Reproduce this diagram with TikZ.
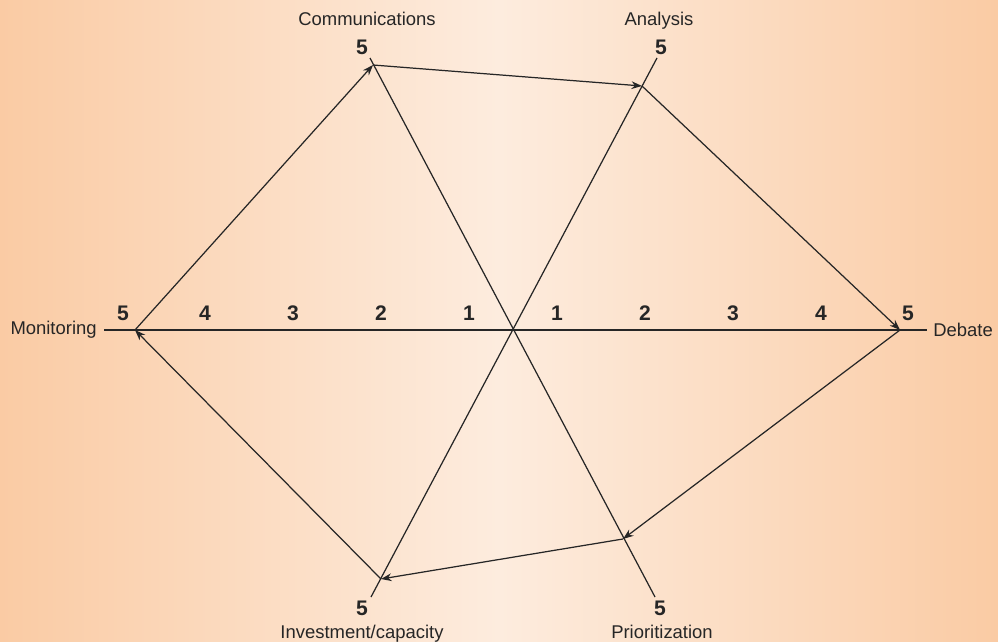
\documentclass[tikz,border=0pt]{standalone}
\usepackage{fontspec}
\setmainfont{Liberation Sans}
\usepackage{tikz}
\usetikzlibrary{arrows.meta}
\definecolor{edgeor}{RGB}{250,203,164}
\definecolor{midor}{RGB}{253,236,222}

\begin{document}
\begin{tikzpicture}[x=0.02cm,y=-0.02cm,
      ax/.style={line width=0.7pt,black!85},
      arr/.style={line width=0.7pt,black!85,-{Stealth[length=6pt,width=4.4pt]}},
      lab/.style={font=\fontsize{10.5}{12}\selectfont,text=black!85,inner sep=0pt},
      num/.style={font=\fontsize{12}{14}\selectfont\bfseries,text=black!85,inner sep=0pt}]
    % background
    \shade[left color=edgeor,right color=edgeor,middle color=midor] (0,0) rectangle (998,642);
    \useasboundingbox (0,0) rectangle (998,642);
    \coordinate (c) at (513,330);
    % axis ends
    \coordinate (mon) at (104,330);
    \coordinate (deb) at (927,330);
    \coordinate (comT) at (370,58);
    \coordinate (priB) at (655,597);
    \coordinate (anaT) at (657,58);
    \coordinate (invB) at (371,597);
    % scored points
    \coordinate (pM) at (135,330);
    \coordinate (pC) at (373,65);
    \coordinate (pA) at (642,86);
    \coordinate (pD) at (900,330);
    \coordinate (pP) at (623,539);
    \coordinate (pI) at (381,579);
    % axes
    \draw[ax] (mon) -- (deb);
    \draw[ax] (comT) -- (priB);
    \draw[ax] (anaT) -- (invB);
    % path of scores
    \draw[arr] (pM) -- (pC);
    \draw[arr] (pC) -- (pA);
    \draw[arr] (pA) -- (pD);
    \draw[arr] (pD) -- (pP);
    \draw[arr] (pP) -- (pI);
    \draw[arr] (pI) -- (pM);
    % scale numbers on the horizontal axis
    \foreach \k in {1,2,3,4} {
      \node[num] (nl\k) at (557-88*\k,313) {\k};
      \node[num] (nr\k) at (469+88*\k,313) {\k};
    }
    \node[num] (nl5) at (123,313) {5};
    \node[num] (nr5) at (908,313) {5};
    \node[num] (ncom) at (362,47) {5};
    \node[num] (nana) at (661,47) {5};
    \node[num] (ninv) at (362,608) {5};
    \node[num] (npri) at (660,608) {5};
    % axis names
    \node[lab,anchor=east] (lmon) at (97,330) {Monitoring};
    \node[lab,anchor=west] (ldeb) at (933,330) {Debate};
    \node[lab,anchor=base] (lcom) at (367,26) {Communications};
    \node[lab,anchor=base] (lana) at (659,26) {Analysis};
    \node[lab,anchor=base] (linv) at (362,638) {Investment/capacity};
    \node[lab,anchor=base] (lpri) at (662,638) {Prioritization};
  \end{tikzpicture}
\end{document}
